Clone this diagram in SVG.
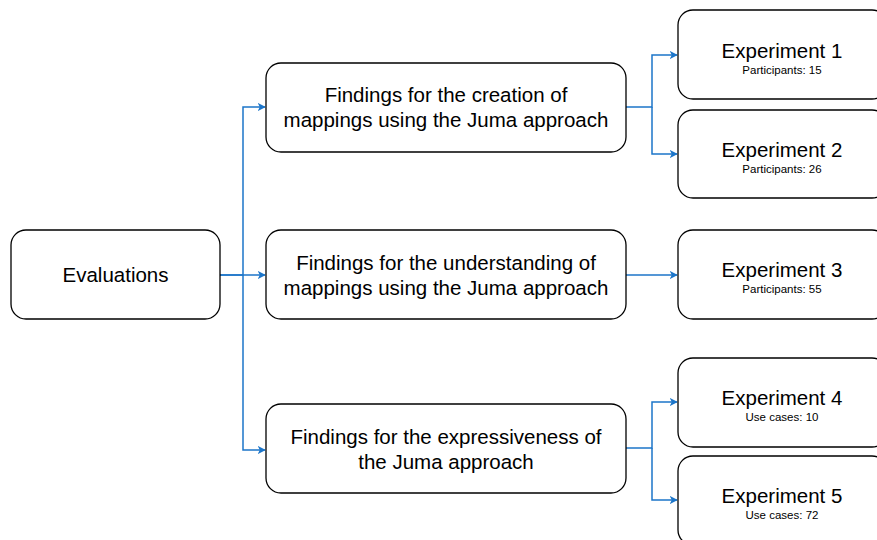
<svg xmlns="http://www.w3.org/2000/svg" width="877" height="540" viewBox="0 0 877 540">
<style>
.box{fill:#fff;stroke:#000;stroke-width:1.3}
.t{font-family:"Liberation Sans",Arial,sans-serif;font-size:20.5px;fill:#000;text-anchor:middle}
.s{font-family:"Liberation Sans",Arial,sans-serif;font-size:11.5px;fill:#000;text-anchor:middle}
.c{fill:none;stroke:#1C75C9;stroke-width:1.5}
</style>
<defs>
<marker id="a" viewBox="0 0 10 10" refX="9" refY="5" markerWidth="8" markerHeight="8" markerUnits="userSpaceOnUse" orient="auto">
<path d="M0,0 L10,5 L0,10 L2.5,5 Z" fill="#1C75C9"/>
</marker>
</defs>
<rect width="877" height="540" fill="#fff"/>
<g id="connectors">
<path class="c" d="M220,275 H243 V107 H265" marker-end="url(#a)"/>
<path class="c" d="M220,275 H265" marker-end="url(#a)"/>
<path class="c" d="M243,275 V450 H265" marker-end="url(#a)"/>
<path class="c" d="M626,107 H652 V55 H677" marker-end="url(#a)"/>
<path class="c" d="M652,107 V154 H677" marker-end="url(#a)"/>
<path class="c" d="M626,275 H677" marker-end="url(#a)"/>
<path class="c" d="M626,448 H652 V402 H677" marker-end="url(#a)"/>
<path class="c" d="M652,448 V500 H677" marker-end="url(#a)"/>
</g>
<g id="evaluations">
<rect class="box" x="11" y="230" width="209" height="89" rx="15"/>
<text class="t" x="115.5" y="282">Evaluations</text>
</g>
<g id="finding1">
<rect class="box" x="266" y="63" width="360" height="89" rx="15"/>
<text class="t" x="446" y="102">Findings for the creation of</text>
<text class="t" x="446" y="127">mappings using the Juma approach</text>
</g>
<g id="finding2">
<rect class="box" x="266" y="230" width="360" height="89" rx="15"/>
<text class="t" x="446" y="270">Findings for the understanding of</text>
<text class="t" x="446" y="295">mappings using the Juma approach</text>
</g>
<g id="finding3">
<rect class="box" x="266" y="404" width="360" height="89" rx="15"/>
<text class="t" x="446" y="444">Findings for the expressiveness of</text>
<text class="t" x="446" y="469">the Juma approach</text>
</g>
<g id="exp1">
<rect class="box" x="678" y="10" width="209" height="89" rx="15"/>
<text class="t" x="782" y="58">Experiment 1</text>
<text class="s" x="782" y="74">Participants: 15</text>
</g>
<g id="exp2">
<rect class="box" x="678" y="110" width="209" height="88" rx="15"/>
<text class="t" x="782" y="157">Experiment 2</text>
<text class="s" x="782" y="173">Participants: 26</text>
</g>
<g id="exp3">
<rect class="box" x="678" y="230" width="209" height="89" rx="15"/>
<text class="t" x="782" y="277">Experiment 3</text>
<text class="s" x="782" y="293">Participants: 55</text>
</g>
<g id="exp4">
<rect class="box" x="678" y="358" width="209" height="89" rx="15"/>
<text class="t" x="782" y="405">Experiment 4</text>
<text class="s" x="782" y="421">Use cases: 10</text>
</g>
<g id="exp5">
<rect class="box" x="678" y="456" width="209" height="89" rx="15"/>
<text class="t" x="782" y="503">Experiment 5</text>
<text class="s" x="782" y="519">Use cases: 72</text>
</g>
</svg>
